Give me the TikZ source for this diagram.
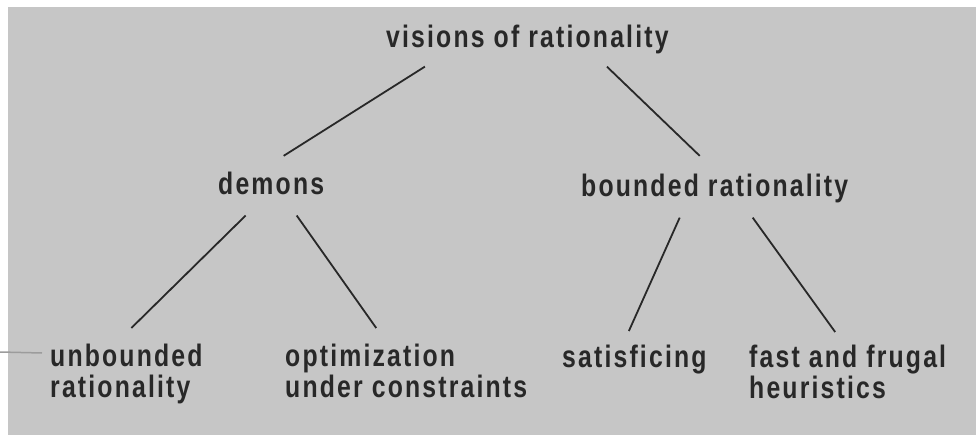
\documentclass[tikz,border=0pt]{standalone}
\usepackage{fontspec}
\newfontfamily\treefont{Liberation Sans}[FakeStretch=0.8,LetterSpace=7]
\definecolor{scangray}{RGB}{198,198,198}
\definecolor{inkgray}{RGB}{40,40,40}
\begin{document}
\begin{tikzpicture}[x=1pt,y=-1pt,
  label/.style={inner sep=0pt,text=inkgray,align=left,
    font=\treefont\bfseries\fontsize{31}{31}\selectfont},
  branch/.style={draw=inkgray,line width=1.8pt}]
\useasboundingbox (0,0) rectangle (976,435);
\fill[white] (0,0) rectangle (976,435);
\fill[scangray] (8,7) rectangle (976,435);
% stray mark of the scan
\draw[gray!60!scangray,line width=1.5pt] (0,352) -- (42,353);

\node[label,anchor=base west] (vis) at (386,48) {visions of rationality};

\node[label,anchor=base west] (dem) at (218,195) {demons};
\node[label,anchor=base west] (bnd) at (581,197) {bounded rationality};

\node[label,anchor=north west] (unb) at (50,344) {unbounded\\rationality};
\node[label,anchor=north west] (opt) at (285,344) {optimization\\under constraints};
\node[label,anchor=north west] (sat) at (562,345) {satisficing};
\node[label,anchor=north west] (ffh) at (749,345) {fast and frugal\\heuristics};

\draw[branch] ([xshift=-102.5pt,yshift=-12pt]vis.south) -- ([xshift=12.5pt,yshift=16.5pt]dem.north);
\draw[branch] ([xshift=79.5pt,yshift=-12pt]vis.south) -- ([xshift=-15pt,yshift=18.5pt]bnd.north);

\draw[branch] ([xshift=-25.5pt,yshift=-20pt]dem.south) -- ([xshift=5pt,yshift=16pt]unb.north);
\draw[branch] ([xshift=25.5pt,yshift=-20pt]dem.south) -- ([xshift=-30pt,yshift=16pt]opt.north);
\draw[branch] ([xshift=-35pt,yshift=-14pt]bnd.south) -- ([xshift=-5.5pt,yshift=14pt]sat.north);
\draw[branch] ([xshift=38pt,yshift=-14pt]bnd.south) -- ([xshift=-12.5pt,yshift=13pt]ffh.north);
\end{tikzpicture}
\end{document}
